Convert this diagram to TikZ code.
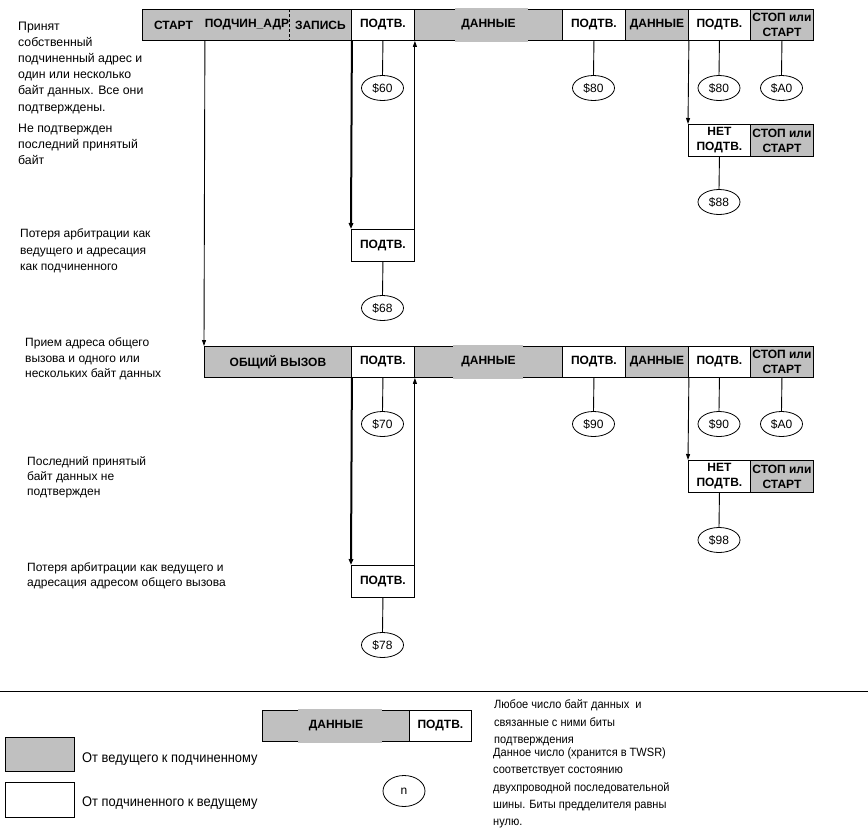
\documentclass[tikz,border=0pt]{standalone}
\usepackage{fontspec}
\setmainfont{Liberation Sans}
\newfontfamily\lgfont[FakeStretch=0.92]{Liberation Sans}
\usetikzlibrary{shapes.geometric,arrows.meta}
\definecolor{gfill}{RGB}{192,192,192}
\tikzset{
  cellbase/.style={rectangle, inner sep=0pt, minimum height=31pt, anchor=north west,
    font=\fontsize{12}{15}\selectfont\bfseries, align=center, line width=0.9pt},
  gcell/.style={cellbase, draw, fill=gfill},
  wcell/.style={cellbase, draw, fill=white},
  ell/.style={ellipse, draw, line width=0.8pt, minimum width=42pt, minimum height=25pt,
    inner sep=0pt, font=\fontsize{12}{14}\selectfont},
  conn/.style={line width=0.9pt},
  arr/.style={line width=0.9pt, -{Triangle[length=6pt,width=4pt]}},
  tarr/.style={line width=2pt, -{Triangle[length=6pt,width=4.5pt]}},
  note/.style={anchor=north west, inner sep=0pt, align=left},
  gapline/.style={gfill, line width=1.4pt},
}
\begin{document}
\begin{tikzpicture}[x=1pt,y=-1pt]
\useasboundingbox (0,0) rectangle (868,833);

% ---------- row 1 ----------
\node[gcell, minimum width=62pt] (start) at (142,9) {СТАРТ};
\node[gcell, draw=none, minimum width=85pt] (addr) at (204,9) {ПОДЧИН\_АДР};
\node[gcell, draw=none, minimum width=62pt] (zap) at (289,9) {ЗАПИСЬ};
\node[wcell, minimum width=63pt] (a1) at (351,9) {ПОДТВ.};
\node[gcell, minimum width=148pt] (d1) at (414,9) {ДАННЫЕ};
\node[wcell, minimum width=63pt] (a2) at (562,9) {ПОДТВ.};
\node[gcell, minimum width=63pt] (d2) at (625,9) {ДАННЫЕ};
\node[wcell, minimum width=62pt] (a3) at (688,9) {ПОДТВ.};
\node[gcell, minimum width=63pt] (s1) at (750,9) {СТОП или\\СТАРТ};
\draw[line width=0.9pt] (addr.north west) -- (zap.north east);
\draw[line width=0.9pt] (addr.south west) -- (zap.south east);
\draw[line width=0.9pt, densely dashed] (addr.north east) -- (addr.south east);
\draw[gapline] ([xshift=41pt]d1.north west) -- ([xshift=114pt]d1.north west);
\draw[gapline] ([xshift=41pt]d1.south west) -- ([xshift=114pt]d1.south west);

\node[ell] (e60) at (382.5,88) {\$60};
\node[ell] (e80a) at (593.5,88) {\$80};
\node[ell] (e80b) at (719,88) {\$80};
\node[ell] (ea0a) at (781.5,88) {\$A0};
\draw[conn] (a1.south) -- (e60.north);
\draw[conn] (a2.south) -- (e80a.north);
\draw[conn] (a3.south) -- (e80b.north);
\draw[conn] (s1.south) -- (ea0a.north);

\node[wcell, minimum width=62pt, minimum height=32pt] (n1) at (688,124) {НЕТ\\ПОДТВ.};
\node[gcell, minimum width=63pt, minimum height=32pt] (s1b) at (750,124) {СТОП или\\СТАРТ};
\node[ell] (e88) at (719,202) {\$88};
\draw[conn] (n1.south) -- (e88.north);
\draw[arr] (d2.south east) -- (n1.north west);

\node[wcell, minimum width=63pt, minimum height=32pt] (b1) at (351,229) {ПОДТВ.};
\node[ell] (e68) at (382.5,308) {\$68};
\draw[conn] (b1.south) -- (e68.north);
\draw[tarr] (zap.south east) -- (b1.north west);
\draw[arr] (b1.north east) -- (a1.south east);

% ---------- row 2 ----------
\node[gcell, minimum width=147pt] (ob) at (204,346) {ОБЩИЙ ВЫЗОВ};
\node[wcell, minimum width=63pt] (a4) at (351,346) {ПОДТВ.};
\node[gcell, minimum width=148pt] (d3) at (414,346) {ДАННЫЕ};
\node[wcell, minimum width=63pt] (a5) at (562,346) {ПОДТВ.};
\node[gcell, minimum width=63pt] (d4) at (625,346) {ДАННЫЕ};
\node[wcell, minimum width=62pt] (a6) at (688,346) {ПОДТВ.};
\node[gcell, minimum width=63pt] (s2) at (750,346) {СТОП или\\СТАРТ};
\draw[gapline] ([xshift=39pt]d3.north west) -- ([xshift=109pt]d3.north west);
\draw[gapline] ([xshift=39pt]d3.south west) -- ([xshift=109pt]d3.south west);
\draw[arr] (start.south east) -- (ob.north west);

\node[ell] (e70) at (382.5,424) {\$70};
\node[ell] (e90a) at (593.5,424) {\$90};
\node[ell] (e90b) at (719,424) {\$90};
\node[ell] (ea0b) at (781.5,424) {\$A0};
\draw[conn] (a4.south) -- (e70.north);
\draw[conn] (a5.south) -- (e90a.north);
\draw[conn] (a6.south) -- (e90b.north);
\draw[conn] (s2.south) -- (ea0b.north);

\node[wcell, minimum width=62pt, minimum height=32pt] (n2) at (688,460) {НЕТ\\ПОДТВ.};
\node[gcell, minimum width=63pt, minimum height=32pt] (s2b) at (750,460) {СТОП или\\СТАРТ};
\node[ell] (e98) at (719,540) {\$98};
\draw[conn] (n2.south) -- (e98.north);
\draw[arr] (d4.south east) -- (n2.north west);

\node[wcell, minimum width=63pt, minimum height=32pt] (b2) at (351,565) {ПОДТВ.};
\node[ell] (e78) at (382.5,645) {\$78};
\draw[conn] (b2.south) -- (e78.north);
\draw[tarr] (ob.south east) -- (b2.north west);
\draw[arr] (b2.north east) -- (a4.south east);

% ---------- left notes ----------
\node[note, font=\fontsize{12.3}{16.2}\selectfont] (t1) at (18,21.5)
  {Принят\\собственный\\подчиненный адрес и\\один или несколько\\байт данных. Все они\\подтверждены.};
\node[note, font=\fontsize{12.3}{16}\selectfont] (t1b) at (18,123.5)
  {Не подтвержден\\последний принятый\\байт};
\node[note, font=\fontsize{12}{16.5}\selectfont] (t2) at (20,228.5)
  {Потеря арбитрации как\\ведущего и адресация\\как подчиненного};
\node[note, font=\fontsize{12}{15.7}\selectfont] (t3) at (25,337.5)
  {Прием адреса общего\\вызова и одного или\\нескольких байт данных};
\node[note, font=\fontsize{12}{15}\selectfont] (t4) at (27,456)
  {Последний принятый\\байт данных не\\подтвержден};
\node[note, font=\fontsize{12}{15}\selectfont] (t5) at (27,562.5)
  {Потеря арбитрации как ведущего и\\адресация адресом общего вызова};

% ---------- legend ----------
\coordinate (sepL) at (0,691);
\coordinate (sepR) at (868,691);
\draw[line width=1pt] (sepL) -- (sepR);

\node[gcell, minimum width=147pt] (ld) at (262,710) {ДАННЫЕ};
\node[wcell, minimum width=62pt] (la) at (409,710) {ПОДТВ.};
\draw[gapline] ([xshift=36pt]ld.north west) -- ([xshift=120pt]ld.north west);
\draw[gapline] ([xshift=36pt]ld.south west) -- ([xshift=120pt]ld.south west);

\node[gcell, minimum width=69pt, minimum height=34pt] (gbox) at (5,737) {};
\node[wcell, minimum width=69pt, minimum height=35pt] (wbox) at (5,782) {};
\node[anchor=west, inner sep=0pt, font=\lgfont\fontsize{14}{16}\selectfont] (lg1) at (82,759) {От ведущего к подчиненному};
\node[anchor=west, inner sep=0pt, font=\lgfont\fontsize{14}{16}\selectfont] (lg2) at (82,803) {От подчиненного к ведущему};

\node[ell, minimum width=42pt, minimum height=31pt] (en) at (404,791) {n};

\node[note, font=\lgfont\fontsize{12}{17.5}\selectfont] (rt1) at (494,699.5)
  {Любое число байт данных~ и\\связанные с ними биты\\подтверждения};
\node[note, font=\lgfont\fontsize{12}{17.3}\selectfont] (rt2) at (493,747.5)
  {Данное число (хранится в TWSR)\\соответствует состоянию\\двухпроводной последовательной\\шины. Биты предделителя равны\\нулю.};
\end{tikzpicture}
\end{document}
